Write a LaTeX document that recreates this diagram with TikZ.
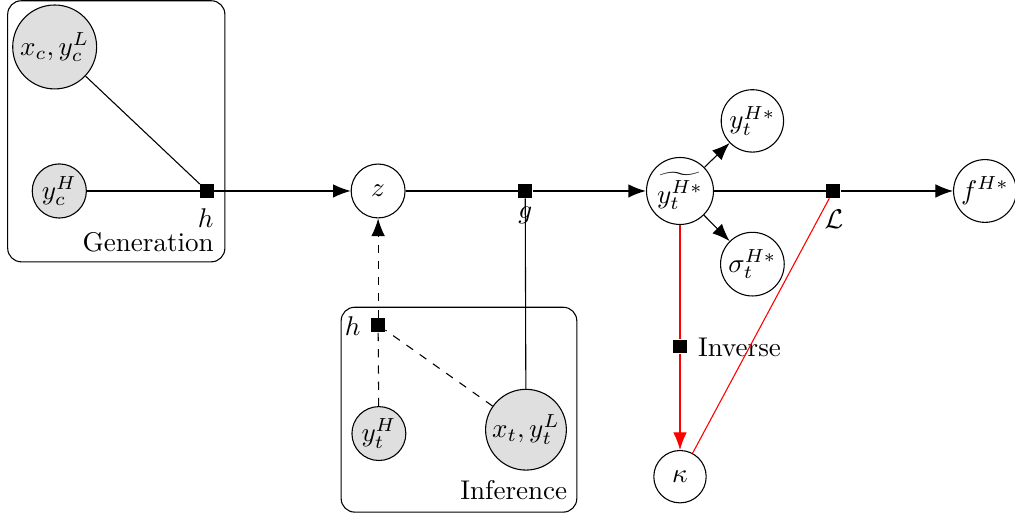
\documentclass[tikz,border=0pt]{standalone}
\usetikzlibrary{arrows.meta}
\tikzset{
	latent/.style={circle, draw, minimum size=20pt, inner sep=1pt},
	obs/.style={latent, fill=gray!25},
	factor/.style={rectangle, fill=black, minimum size=5pt, inner sep=0pt},
	plate/.style={draw, rounded corners=5pt},
	edge/.style={-{Latex[length=6.5pt,width=5pt]}},
}
\begin{document}
\begin{tikzpicture}
				\useasboundingbox (0,0) rectangle (13.18,6.70);
				%generation
				\draw[plate] (0.10,3.30) rectangle (2.92,6.69);
				\node (gen) [anchor=base east] at (2.90,3.43) {Generation};
				\node (xc) [obs, minimum size=1.09cm] at (0.71,6.09) {$x_c, y_c^L$};
				\node (yc) [obs] at (0.77,4.22) {$y_c^H$};
				\node (hgen) [factor] at (2.69,4.22) {};
				\node (hgenlab) at (2.67,3.87) {$h$};
				%inference
				\draw[plate] (4.43,0.05) rectangle (7.49,2.71);
				\node (inf) [anchor=base east] at (7.49,0.21) {Inference};
				\node (yt) [obs, minimum size=0.70cm] at (4.92,1.07) {$y_t^H$};
				\node (xt) [obs, minimum size=1.04cm] at (6.83,1.12) {$x_t, y_t^L$};
				\node (hinf) [factor] at (4.91,2.48) {};
				\node (hinflab) at (4.58,2.47) {$h$};
				%main row
				\node (z) [latent, minimum size=0.70cm] at (4.91,4.22) {$z$};
				\node (g) [factor] at (6.82,4.22) {};
				\node (glab) at (6.82,3.90) {$g$};
				\node (ytil) [latent, minimum size=0.86cm] at (8.83,4.22) {$\widetilde{y_t^{H*}}$};
				\node (ystar) [latent, minimum size=0.81cm] at (9.77,5.13) {$y_t^{H*}$};
				\node (sig) [latent, minimum size=0.81cm] at (9.77,3.27) {$\sigma_t^{H*}$};
				\node (L) [factor] at (10.82,4.22) {};
				\node (Llab) at (10.83,3.85) {$\mathcal{L}$};
				\node (f) [latent, minimum size=0.81cm] at (12.79,4.22) {$f^{H*}$};
				\node (inv) [factor] at (8.83,2.20) {};
				\node (invlab) [anchor=west] at (8.94,2.19) {Inverse};
				\node (kappa) [latent, minimum size=0.68cm] at (8.83,0.51) {$\kappa$};
				%edges
				\draw (xc) -- (hgen);
				\draw (yc) -- (hgen);
				\draw[edge] (hgen) -- (z);
				\draw (z) -- (g);
				\draw (xt) -- (g);
				\draw[edge, line width=0.6pt] (g) -- (ytil);
				\draw[edge] (ytil) -- (ystar);
				\draw[edge] (ytil) -- (sig);
				\draw (ytil) -- (L);
				\draw[edge] (L) -- (f);
				\draw[dashed] (yt) -- (hinf);
				\draw[dashed] (xt) -- (hinf);
				\draw[edge, dashed] (hinf) -- (z);
				\draw[red] (ytil) -- (inv);
				\draw[red, edge] (inv) -- (kappa);
				\draw[red] (kappa) -- (L);
			\end{tikzpicture}
\end{document}
